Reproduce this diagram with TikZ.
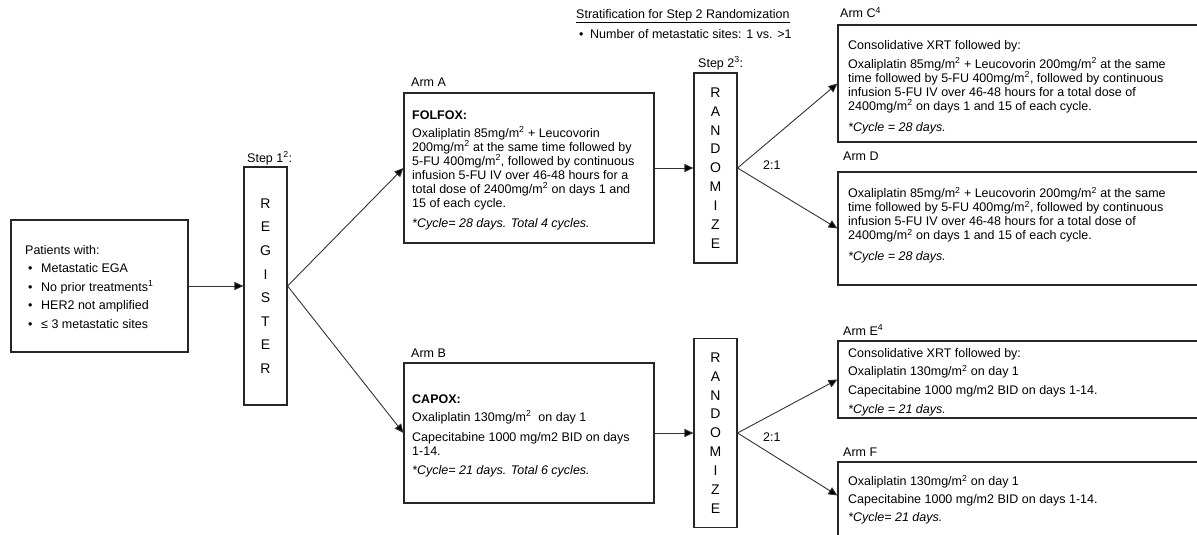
\documentclass[tikz,border=0pt]{standalone}
\usepackage{fontspec}
\setmainfont{Liberation Sans}
\usetikzlibrary{arrows.meta}
\newcommand\msq{\textsuperscript{2}}
\newcommand\topstrut{\rule{0pt}{10pt}}
\begin{document}
\begin{tikzpicture}[x=1pt,y=-1pt,
  box/.style={draw=black!85, line width=1.1pt, rectangle, inner sep=0pt},
  txt/.style={anchor=north west, align=left, inner sep=0pt, font=\fontsize{12.5}{14}\selectfont},
  lbl/.style={anchor=base west, inner sep=0pt, font=\fontsize{12.5}{14}\selectfont},
  letters/.style={align=center, inner sep=0pt, font=\fontsize{14}{18.9}\selectfont},
  arr/.style={-{Triangle[width=8pt,length=9pt,fill=black]}, line width=0.9pt, draw=black!80},
]
\useasboundingbox (0,0) rectangle (1197,535);
\clip (0,0) rectangle (1197,535);

% boxes
\node[box, minimum width=177pt, minimum height=132pt] (pat) at (99.5,286) {};
\node[box, minimum width=43pt, minimum height=238pt] (reg) at (265.5,286) {};
\node[box, minimum width=250pt, minimum height=150pt] (armA) at (529,168) {};
\node[box, minimum width=250pt, minimum height=140pt] (armB) at (529,433) {};
\node[box, minimum width=43pt, minimum height=190pt] (rand1) at (715.5,168) {};
\node[box, minimum width=43pt, minimum height=189pt] (rand2) at (715.5,433) {};
\node[box, minimum width=372pt, minimum height=117pt] (armC) at (1024,83.5) {};
\node[box, minimum width=372pt, minimum height=113pt] (armD) at (1024,228.5) {};
\node[box, minimum width=372pt, minimum height=77pt] (armE) at (1024,379.5) {};
\node[box, minimum width=372pt, minimum height=83pt] (armF) at (1024,503.5) {};

% vertical letters
\node[letters, font=\fontsize{14}{23.6}\selectfont] (regt) at (reg.center) {R\\E\\G\\I\\S\\T\\E\\R};
\node[letters] (rand1t) at (rand1.center) {R\\A\\N\\D\\O\\M\\I\\Z\\E};
\node[letters] (rand2t) at (rand2.center) {R\\A\\N\\D\\O\\M\\I\\Z\\E};

% texts
\node[txt, font=\fontsize{12.5}{18.5}\selectfont] (patt) at (25,244) {\topstrut Patients with:\\
\hspace*{3pt}\makebox[13pt][l]{•}Metastatic EGA\\
\hspace*{3pt}\makebox[13pt][l]{•}No prior treatments\textsuperscript{1}\\
\hspace*{3pt}\makebox[13pt][l]{•}HER2 not amplified\\
\hspace*{3pt}\makebox[13pt][l]{•}≤ 3 metastatic sites};

\node[txt] (armAt) at (412,109) {\topstrut\textbf{FOLFOX:}\\[4pt]
Oxaliplatin 85mg/m\msq{} + Leucovorin\\
200mg/m\msq{} at the same time followed by\\
5-FU 400mg/m\msq, followed by continuous\\
infusion 5-FU IV over 46-48 hours for a\\
total dose of 2400mg/m\msq{} on days 1 and\\
15 of each cycle.\\[6pt]
\textit{*Cycle= 28 days. Total 4 cycles.}};

\node[txt] (armBt) at (412,393) {\topstrut\textbf{CAPOX:}\\[4pt]
Oxaliplatin 130mg/m\msq{}\ \ on day 1\\[6pt]
Capecitabine 1000 mg/m2 BID on days\\
1-14.\\[5pt]
\textit{*Cycle= 21 days. Total 6 cycles.}};

\node[txt] (armCt) at (848,39) {\topstrut Consolidative XRT followed by:\\[5pt]
Oxaliplatin 85mg/m\msq{} + Leucovorin 200mg/m\msq{} at the same\\
time followed by 5-FU 400mg/m\msq, followed by continuous\\
infusion 5-FU IV over 46-48 hours for a total dose of\\
2400mg/m\msq{} on days 1 and 15 of each cycle.\\[7pt]
\textit{*Cycle = 28 days.}};

\node[txt] (armDt) at (848,187) {\topstrut Oxaliplatin 85mg/m\msq{} + Leucovorin 200mg/m\msq{} at the same\\
time followed by 5-FU 400mg/m\msq, followed by continuous\\
infusion 5-FU IV over 46-48 hours for a total dose of\\
2400mg/m\msq{} on days 1 and 15 of each cycle.\\[7pt]
\textit{*Cycle = 28 days.}};

\node[txt, font=\fontsize{12.5}{18.7}\selectfont] (armEt) at (848,347) {\topstrut Consolidative XRT followed by:\\
Oxaliplatin 130mg/m\msq{} on day 1\\
Capecitabine 1000 mg/m2 BID on days 1-14.\\
\textit{*Cycle = 21 days.}};

\node[txt, font=\fontsize{12.5}{18}\selectfont] (armFt) at (848,475) {\topstrut Oxaliplatin 130mg/m\msq{} on day 1\\
Capecitabine 1000 mg/m2 BID on days 1-14.\\
\textit{*Cycle= 21 days.}};

\node[txt, font=\fontsize{12.5}{20}\selectfont] (strat) at (576,8) {\topstrut\underline{Stratification for Step 2 Randomization}\\
\hspace*{3pt}\makebox[11pt][l]{•}Number of metastatic sites: 1 vs. >1};

% labels
\node[lbl] (step1) at (247,162) {Step 1\textsuperscript{2}:};
\node[lbl] (step2) at (698,67) {Step 2\textsuperscript{3}:};
\node[lbl] (lblA) at (411,87) {Arm A};
\node[lbl] (lblB) at (411,357) {Arm B};
\node[lbl] (lblC) at (840,18) {Arm C\textsuperscript{4}};
\node[lbl] (lblD) at (843,160) {Arm D};
\node[lbl] (lblE) at (843,335) {Arm E\textsuperscript{4}};
\node[lbl] (lblF) at (843,456) {Arm F};
\node[lbl] (r1) at (763,169) {2:1};
\node[lbl] (r2) at (763,441) {2:1};

% connectors
\draw[arr] (pat.east) -- (reg.west);
\draw[arr] (reg.east) -- (armA.west);
\draw[arr] (reg.east) -- (armB.west);
\draw[arr] (armA.east) -- (rand1.west);
\draw[arr] (armB.east) -- (rand2.west);
\draw[arr] (rand1.east) -- (armC.west);
\draw[arr] (rand1.east) -- (armD.west);
\draw[arr] (rand2.east) -- (armE.west);
\draw[arr] (rand2.east) -- ([yshift=8pt]armF.west);
\end{tikzpicture}
\end{document}
